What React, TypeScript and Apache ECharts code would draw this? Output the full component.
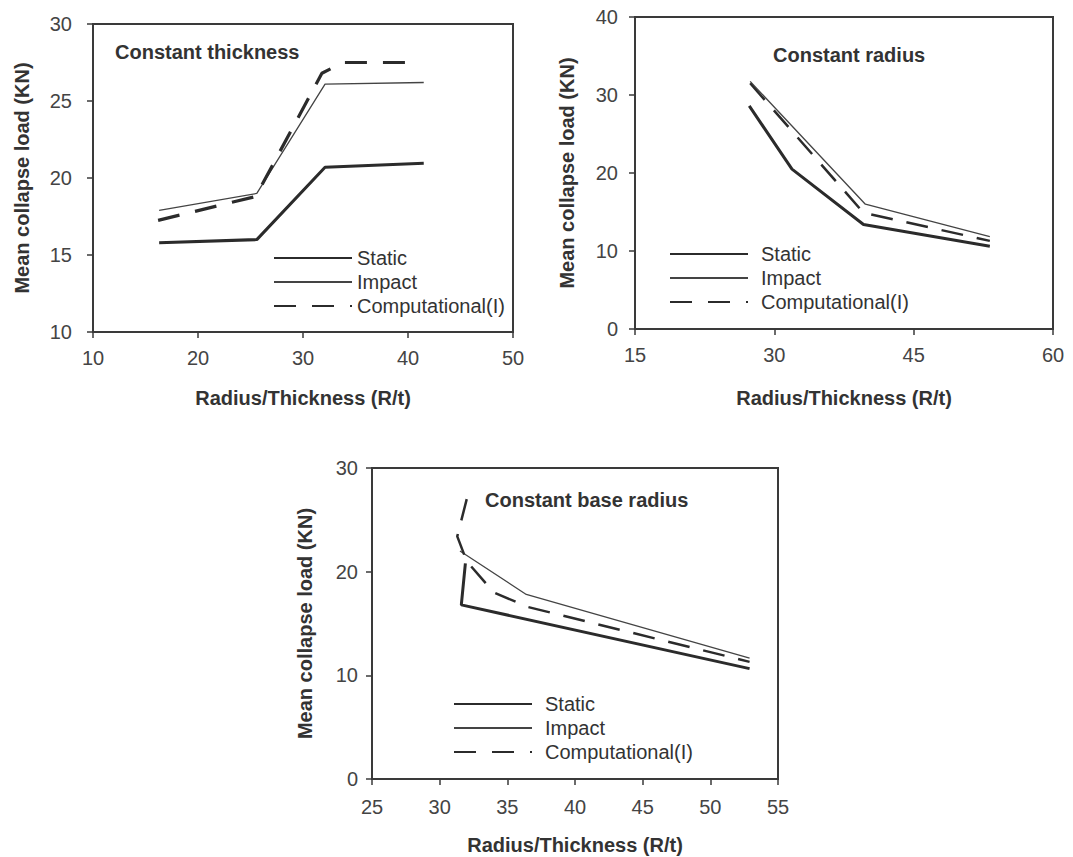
import React, { useEffect, useRef } from "react";
import * as echarts from "echarts";

// Constant thickness
const ctStatic: number[][] = [[16.3, 15.8], [25.6, 16.0], [32.1, 20.7], [41.5, 20.95]];
const ctImpact: number[][] = [[16.3, 17.9], [25.6, 19.0], [32.1, 26.1], [41.5, 26.2]];
const ctComp: number[][] = [[16.2, 17.25], [25.5, 18.8], [31.8, 26.8], [33.8, 27.5], [41.0, 27.5]];

// Constant radius
const crStatic: number[][] = [[27.3, 28.6], [31.9, 20.5], [39.6, 13.4], [53.2, 10.6]];
const crImpact: number[][] = [[27.4, 31.75], [39.8, 16.0], [53.2, 11.85]];
const crComp: number[][] = [[27.4, 31.5], [39.6, 14.9], [53.2, 11.3]];

// Constant base radius
const cbStatic: number[][] = [[31.9, 20.8], [31.6, 16.8], [52.9, 10.65]];
const cbImpact: number[][] = [[31.5, 22.0], [36.4, 17.8], [52.9, 11.65]];
const cbComp: number[][] = [[32.0, 27.0], [31.3, 23.4], [32.0, 21.0], [34.0, 18.0], [36.5, 16.6], [52.9, 11.3]];

const seriesNames = ["Static", "Impact", "Computational(I)"];
const titles = ["Constant thickness", "Constant radius", "Constant base radius"];
const xName = "Radius/Thickness (R/t)";
const yName = "Mean collapse load (KN)";

const FONT = "'Liberation Sans', Arial, sans-serif";
const DARK = "#2b2b2b";
const AX = "#3a3a3a";
const LABEL = "#444";

export default function App() {
  const ref = useRef<HTMLDivElement>(null);
  useEffect(() => {
    if (!ref.current) return;
    const chart = echarts.init(ref.current, undefined, { renderer: "svg" });

    const grids = [
      { left: 93, top: 24, width: 420, height: 308 },
      { left: 635, top: 17, width: 418, height: 312 },
      { left: 372, top: 468, width: 406, height: 311 },
    ];
    const xCfg = [
      { min: 10, max: 50, interval: 10, margin: 16, gap: 56 },
      { min: 15, max: 60, interval: 15, margin: 16, gap: 59 },
      { min: 25, max: 55, interval: 5, margin: 18, gap: 56 },
    ];
    const yCfg = [
      { min: 10, max: 30, interval: 5, margin: 21, gap: 61 },
      { min: 0, max: 40, interval: 10, margin: 17, gap: 58 },
      { min: 0, max: 30, interval: 10, margin: 14, gap: 57 },
    ];
    const axisCommon = {
      axisLine: { show: true, lineStyle: { color: AX, width: 2 } },
      axisTick: { show: true, inside: false, length: 6, lineStyle: { color: AX, width: 1.5 } },
      splitLine: { show: false },
      nameLocation: "middle" as const,
      nameTextStyle: { fontFamily: FONT, fontSize: 20, fontWeight: "bold", color: "#333" },
    };

    const data = [
      [ctStatic, ctImpact, ctComp],
      [crStatic, crImpact, crComp],
      [cbStatic, cbImpact, cbComp],
    ];
    const series: any[] = [];
    data.forEach((set, gi) => {
      set.forEach((pts, si) => {
        const style: any =
          si === 0
            ? { color: DARK, width: 3 }
            : si === 1
            ? { color: "#444", width: 1.3 }
            : { color: DARK, width: gi === 0 ? 3.2 : 2.5, type: gi === 0 ? [22, 16] : [22, 14] };
        series.push({
          type: "line",
          name: seriesNames[si],
          xAxisIndex: gi,
          yAxisIndex: gi,
          data: pts,
          symbol: "none",
          lineStyle: style,
          itemStyle: { color: style.color },
          silent: true,
        });
      });
    });

    const legendPos = [
      { left: 273, top: 248, pad: 0 },
      { left: 669, top: 244, pad: 8 },
      { left: 453, top: 694, pad: 8 },
    ];

    chart.setOption({
      animation: false,
      backgroundColor: "#fff",
      textStyle: { fontFamily: FONT },
      title: [
        { text: titles[0], left: 115, top: 42 },
        { text: titles[1], left: 773, top: 45 },
        { text: titles[2], left: 485, top: 490 },
      ].map((t) => ({
        ...t,
        padding: 0,
        textStyle: { fontFamily: FONT, fontSize: 20, fontWeight: "bold", color: "#333" },
      })),
      legend: legendPos.map((p) => ({
        left: p.left,
        top: p.top,
        orient: "vertical",
        data: seriesNames,
        itemWidth: 78,
        itemHeight: 14,
        itemGap: 4,
        padding: 0,
        selectedMode: false,
        itemStyle: { opacity: 0 },
        textStyle: { fontFamily: FONT, fontSize: 20, color: "#333", padding: [0, 0, 0, p.pad] },
      })),
      grid: grids.map((g) => ({ ...g, show: true, borderColor: AX, borderWidth: 2, backgroundColor: "transparent" })),
      xAxis: xCfg.map((c, i) => ({
        ...axisCommon,
        type: "value",
        gridIndex: i,
        min: c.min,
        max: c.max,
        interval: c.interval,
        name: xName,
        nameGap: c.gap,
        axisLabel: { fontFamily: FONT, fontSize: 20, color: LABEL, margin: c.margin },
      })),
      yAxis: yCfg.map((c, i) => ({
        ...axisCommon,
        type: "value",
        gridIndex: i,
        min: c.min,
        max: c.max,
        interval: c.interval,
        name: yName,
        nameGap: c.gap,
        axisLabel: { fontFamily: FONT, fontSize: 20, color: LABEL, margin: c.margin },
      })),
      series,
    });
    return () => chart.dispose();
  }, []);
  return (
    <div
      ref={ref}
      style={{ position: "fixed", left: 0, top: 0, width: 1073, height: 857, background: "#fff" }}
    />
  );
}
